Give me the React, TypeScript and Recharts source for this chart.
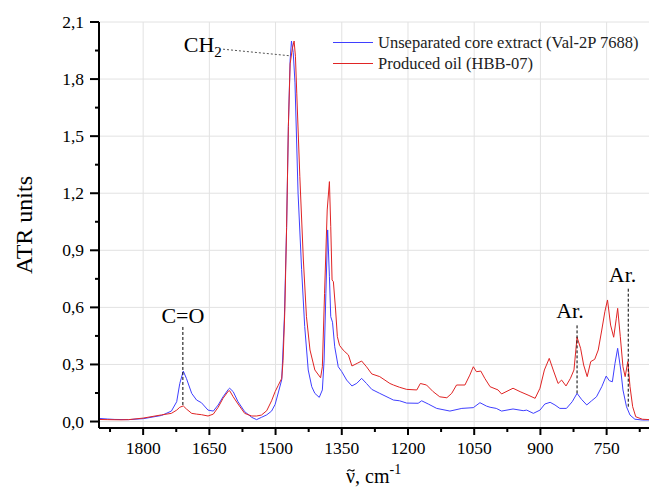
import React from "react";
import {
	LineChart,
	Line,
	XAxis,
	YAxis,
	CartesianGrid,
	Legend,
	ReferenceLine,
	ReferenceDot,
	Label
} from "recharts";

const FONT = "'Liberation Serif', 'Times New Roman', serif";

// wavenumber (cm-1) / ATR units
const coreWavenumbers = [
	1905, 1880, 1864, 1833, 1800, 1758, 1736, 1724, 1717, 1709, 1702, 1690, 1679, 1668, 1653, 1641,
	1630, 1619, 1607, 1604, 1596, 1585, 1570, 1554, 1543, 1532, 1520, 1509, 1501, 1494, 1486, 1480,
	1475, 1471, 1467, 1464, 1460, 1456, 1449, 1441, 1434, 1426, 1418, 1411, 1401, 1394, 1390, 1386,
	1382, 1378, 1375, 1371, 1366, 1358, 1350, 1339, 1327, 1316, 1305, 1294, 1282, 1264, 1241, 1233,
	1219, 1203, 1177, 1169, 1154, 1135, 1105, 1078, 1052, 1037, 1022, 1014, 1000, 988, 962, 939,
	931, 916, 901, 890, 878, 867, 856, 841, 828, 817, 807, 795, 784, 773, 761, 751,
	744, 737, 731, 725, 718, 713, 705, 697, 686, 669, 652
];
const coreValues = [
	0.017, 0.013, 0.011, 0.01, 0.015, 0.032, 0.055, 0.104, 0.2, 0.265, 0.227, 0.148, 0.113, 0.099, 0.06, 0.055,
	0.087, 0.13, 0.169, 0.175, 0.157, 0.104, 0.052, 0.022, 0.01, 0.022, 0.035, 0.055, 0.09, 0.15, 0.22, 0.55,
	1.02, 1.55, 1.9, 2.0, 1.94, 1.78, 1.2, 0.8, 0.5, 0.271, 0.183, 0.148, 0.127, 0.166, 0.323, 0.674,
	1.007, 0.761, 0.551, 0.522, 0.393, 0.288, 0.262, 0.218, 0.187, 0.201, 0.227, 0.2, 0.169, 0.148, 0.122, 0.113,
	0.109, 0.097, 0.096, 0.109, 0.092, 0.069, 0.055, 0.069, 0.073, 0.099, 0.081, 0.075, 0.069, 0.055, 0.066, 0.057,
	0.06, 0.043, 0.06, 0.092, 0.101, 0.087, 0.069, 0.069, 0.104, 0.148, 0.117, 0.087, 0.109, 0.13, 0.183, 0.239,
	0.215, 0.209, 0.306, 0.385, 0.271, 0.166, 0.078, 0.034, 0.012, 0.008, 0.008
];

const oilWavenumbers = [
	1905, 1880, 1850, 1833, 1800, 1758, 1736, 1724, 1717, 1709, 1702, 1690, 1679, 1668, 1653, 1641,
	1630, 1619, 1607, 1604, 1596, 1585, 1570, 1554, 1543, 1532, 1520, 1509, 1501, 1494, 1486, 1483,
	1479, 1475, 1471, 1467, 1462, 1458, 1455, 1452, 1445, 1437, 1430, 1422, 1411, 1398, 1394, 1389,
	1383, 1378, 1375, 1372, 1369, 1364, 1360, 1355, 1347, 1343, 1335, 1327, 1315, 1305, 1294, 1282,
	1264, 1241, 1233, 1219, 1203, 1180, 1172, 1158, 1143, 1128, 1112, 1101, 1090, 1071, 1060, 1052,
	1045, 1035, 1026, 1014, 996, 988, 962, 946, 928, 912, 901, 891, 880, 871, 860, 852,
	842, 832, 824, 817, 809, 802, 794, 786, 777, 769, 761, 754, 748, 741, 734, 728,
	725, 719, 713, 708, 702, 697, 691, 684, 669, 652
];
const oilValues = [
	0.011, 0.01, 0.009, 0.01, 0.018, 0.035, 0.043, 0.06, 0.075, 0.082, 0.066, 0.043, 0.039, 0.036, 0.029, 0.039,
	0.075, 0.122, 0.16, 0.162, 0.13, 0.092, 0.043, 0.029, 0.029, 0.034, 0.057, 0.109, 0.157, 0.19, 0.227, 0.32,
	0.586, 1.02, 1.55, 1.88, 1.96, 2.0, 1.92, 1.726, 1.287, 0.849, 0.551, 0.376, 0.271, 0.23, 0.288, 0.674,
	1.112, 1.261, 1.024, 0.744, 0.735, 0.586, 0.446, 0.4, 0.376, 0.367, 0.35, 0.292, 0.306, 0.318, 0.288, 0.25,
	0.236, 0.2, 0.192, 0.18, 0.169, 0.166, 0.2, 0.192, 0.157, 0.13, 0.125, 0.148, 0.192, 0.192, 0.244, 0.288,
	0.262, 0.265, 0.227, 0.183, 0.166, 0.145, 0.175, 0.157, 0.139, 0.122, 0.175, 0.271, 0.332, 0.271, 0.2, 0.218,
	0.187, 0.227, 0.271, 0.443, 0.385, 0.297, 0.236, 0.315, 0.327, 0.376, 0.481, 0.577, 0.639, 0.507, 0.443, 0.543,
	0.595, 0.446, 0.288, 0.236, 0.315, 0.183, 0.078, 0.025, 0.012, 0.01
];

const seriesNames = ["Unseparated core extract (Val-2P 7688)", "Produced oil (HBB-07)"];

const xMajorTicks = [1800, 1650, 1500, 1350, 1200, 1050, 900, 750];
const xAllTicks = [1875, 1800, 1725, 1650, 1575, 1500, 1425, 1350, 1275, 1200, 1125, 1050, 975, 900, 825, 750, 675];
const yMajorTicks = [0, 0.3, 0.6, 0.9, 1.2, 1.5, 1.8, 2.1];
const yAllTicks = [0, 0.15, 0.3, 0.45, 0.6, 0.75, 0.9, 1.05, 1.2, 1.35, 1.5, 1.65, 1.8, 1.95, 2.1];

const coreData = coreWavenumbers.map((w, i) => ({ w, v: coreValues[i] }));
const oilData = oilWavenumbers.map((w, i) => ({ w, v: oilValues[i] }));

const X_DOMAIN: [number, number] = [654, 1900];
const Y_DOMAIN: [number, number] = [-0.034, 2.1];

function XTick(props: any) {
	const { x, y, payload } = props;
	const major = xMajorTicks.includes(payload.value);
	return (
		<g>
			<line x1={x} x2={x} y1={y} y2={y + (major ? 7 : 4)} stroke="#000" strokeWidth={2} />
			{major && (
				<text x={x} y={y + 26} textAnchor="middle" fontSize={17.5} fontFamily={FONT} fill="#000">
					{payload.value}
				</text>
			)}
		</g>
	);
}

function YTick(props: any) {
	const { x, y, payload } = props;
	const major = yMajorTicks.some((t) => Math.abs(t - payload.value) < 1e-6);
	return (
		<g>
			<line x1={x} x2={x - (major ? 9 : 4)} y1={y} y2={y} stroke="#000" strokeWidth={2} />
			{major && (
				<text x={x - 15} y={y + 6} textAnchor="end" fontSize={17.5} fontFamily={FONT} fill="#000">
					{payload.value.toFixed(1).replace(".", ",")}
				</text>
			)}
		</g>
	);
}

function LegendBox(props: any) {
	const items = [...(props.payload || [])].sort(
		(a: any, b: any) => seriesNames.indexOf(a.value) - seriesNames.indexOf(b.value)
	);
	return (
		<div style={{ fontFamily: FONT, fontSize: 16.5, color: "#222" }}>
			{items.map((item: any) => (
				<div key={item.value} style={{ display: "flex", alignItems: "center", height: 21, whiteSpace: "nowrap" }}>
					<svg width={45} height={21}>
						<line x1={0} x2={40} y1={10.5} y2={10.5} stroke={item.color} strokeWidth={1} />
					</svg>
					<span>{item.value}</span>
				</div>
			))}
		</div>
	);
}

const annotation = (text: string, anchor: "start" | "middle", sub?: string) => (p: any) => (
	<text x={p.cx} y={p.cy} textAnchor={anchor} fontSize={22} fontFamily={FONT} fill="#000">
		{text}
		{sub && (
			<tspan dy={5} fontSize={15}>
				{sub}
			</tspan>
		)}
	</text>
);

export default function App() {
	return (
		<div style={{ position: "absolute", left: 0, top: 0, background: "#fff" }}>
			<LineChart width={649} height={488} margin={{ top: 22, right: 0, bottom: 0, left: 0 }}>
				<CartesianGrid
					stroke="#e2e2e2"
					strokeWidth={1}
					horizontalValues={yMajorTicks}
					verticalValues={xMajorTicks}
				/>
				<XAxis
					xAxisId="top"
					orientation="top"
					type="number"
					dataKey="w"
					domain={X_DOMAIN}
					allowDataOverflow
					reversed
					height={0}
					tick={false}
					tickLine={false}
					axisLine={{ stroke: "#000", strokeWidth: 2 }}
				/>
				<XAxis
					type="number"
					dataKey="w"
					domain={X_DOMAIN}
					allowDataOverflow
					reversed
					ticks={xAllTicks}
					interval={0}
					height={60}
					tickSize={0}
					tickMargin={0}
					tickLine={false}
					tick={<XTick />}
					axisLine={{ stroke: "#000", strokeWidth: 2 }}
				>
					<Label
						content={() => (
							<g fontFamily={FONT} fill="#000">
								{/* tilde accent over the nu */}
								<path
									d="M347.3 471.2 q1.6 -2.2 3.6 -0.8 t3.6 -0.8"
									fill="none"
									stroke="#000"
									strokeWidth={1.1}
								/>
								<text x={346} y={483} fontSize={20}>
									ν, cm
									<tspan dy={-9} fontSize={14}>-1</tspan>
								</text>
							</g>
						)}
					/>
				</XAxis>
				<YAxis
					type="number"
					domain={Y_DOMAIN}
					allowDataOverflow
					ticks={yAllTicks}
					interval={0}
					width={99}
					tickSize={0}
					tickMargin={0}
					tickLine={false}
					tick={<YTick />}
					axisLine={{ stroke: "#000", strokeWidth: 2 }}
				>
					<Label
						content={() => (
							<text
								x={32}
								y={225}
								transform="rotate(-90 32 225)"
								textAnchor="middle"
								fontSize={24}
								fontFamily={FONT}
								fill="#000"
							>
								ATR units
							</text>
						)}
					/>
				</YAxis>
				<Legend
					layout="vertical"
					align="center"
					verticalAlign="middle"
					content={<LegendBox />}
					wrapperStyle={{ left: 333, top: 32, width: 316, height: 42 }}
				/>
				<Line
					data={coreData}
					dataKey="v"
					name={seriesNames[0]}
					type="linear"
					stroke="#3f3fff"
					strokeWidth={1}
					dot={false}
					isAnimationActive={false}
				/>
				<Line
					data={oilData}
					dataKey="v"
					name={seriesNames[1]}
					type="linear"
					stroke="#e02424"
					strokeWidth={1}
					dot={false}
					isAnimationActive={false}
				/>
				<ReferenceLine
					segment={[{ x: 1619, y: 1.957 }, { x: 1470, y: 1.923 }]}
					stroke="#555"
					strokeDasharray="2 2"
				/>
				<ReferenceLine
					segment={[{ x: 1710, y: 0.087 }, { x: 1710, y: 0.502 }]}
					stroke="#000"
					strokeDasharray="3 2"
				/>
				<ReferenceLine
					segment={[{ x: 817, y: 0.148 }, { x: 817, y: 0.512 }]}
					stroke="#000"
					strokeDasharray="3 2"
				/>
				<ReferenceLine
					segment={[{ x: 701, y: 0.078 }, { x: 701, y: 0.706 }]}
					stroke="#000"
					strokeDasharray="3 2"
				/>
				<ReferenceDot x={1708} y={1.944} r={0} shape={annotation("CH", "start", "2")} />
				<ReferenceDot x={1710} y={0.519} r={0} shape={annotation("C=O", "middle")} />
				<ReferenceDot x={833} y={0.544} r={0} shape={annotation("Ar.", "middle")} />
				<ReferenceDot x={714} y={0.735} r={0} shape={annotation("Ar.", "middle")} />
			</LineChart>
		</div>
	);
}
